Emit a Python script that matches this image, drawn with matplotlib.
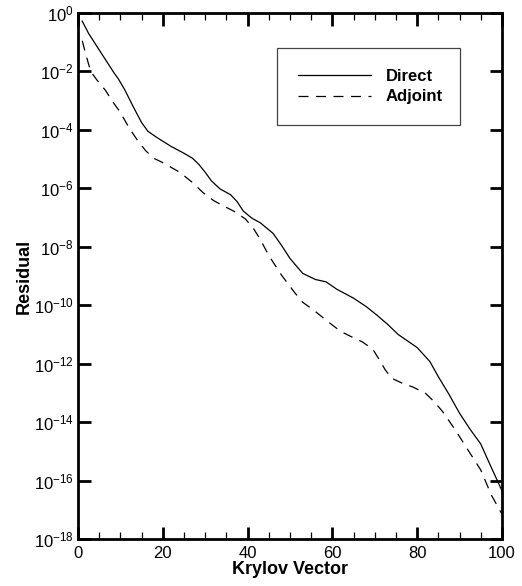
import numpy as np
import matplotlib
matplotlib.use("Agg")
import matplotlib.pyplot as plt
from matplotlib.ticker import MultipleLocator, NullLocator, LogFormatterSciNotation

plt.rcParams['font.family'] = ['Liberation Sans', 'DejaVu Sans']
plt.rcParams['mathtext.fontset'] = 'custom'
plt.rcParams['mathtext.rm'] = 'Liberation Sans'
plt.rcParams['axes.unicode_minus'] = False

# Direct 残差 (log10 で読み取り)
direct_x = [1, 2.5, 4.5, 6.5, 8.5, 9.5, 11, 13, 15, 16.5, 18.5, 22, 25, 27, 28.5, 30, 31.5,
            33.5, 36, 37.5, 39, 41, 43, 46, 48, 50, 53, 56, 58.5, 61, 65, 68, 70.5, 73,
            75.5, 77, 80, 83, 85, 87.5, 90, 92.5, 95, 97, 100]
direct_log = [-0.28, -0.70, -1.15, -1.60, -2.05, -2.25, -2.62, -3.20, -3.75, -4.05, -4.25,
              -4.57, -4.80, -4.97, -5.18, -5.45, -5.75, -6.02, -6.22, -6.45, -6.78, -7.02,
              -7.18, -7.54, -7.95, -8.40, -8.91, -9.12, -9.20, -9.45, -9.76, -10.05, -10.34,
              -10.65, -11.00, -11.15, -11.45, -11.93, -12.45, -13.05, -13.70, -14.25,
              -14.75, -15.40, -16.35]

# Adjoint 残差
adjoint_x = [1, 2, 3, 4.5, 6.5, 8, 10, 12, 14, 16, 18, 20, 24, 27, 29.5, 32, 34, 37, 39.5,
             41.5, 43, 45, 48, 51, 53, 55.5, 58, 60, 62, 64.5, 67, 69.5, 71, 72.5, 74, 76.5,
             79, 82, 84, 86, 89, 92, 95, 97.5, 100]
adjoint_log = [-0.95, -1.50, -2.00, -2.30, -2.65, -3.00, -3.40, -3.92, -4.35, -4.72, -4.98,
               -5.12, -5.45, -5.80, -6.15, -6.42, -6.58, -6.80, -7.05, -7.40, -7.75, -8.30,
               -8.97, -9.55, -9.90, -10.16, -10.45, -10.68, -10.90, -11.08, -11.25, -11.50,
               -11.85, -12.22, -12.50, -12.67, -12.80, -13.02, -13.30, -13.64, -14.27,
               -14.96, -15.64, -16.50, -17.15]

fig = plt.figure(figsize=(5.22, 5.86), dpi=100)
ax = fig.add_axes([78 / 522, 47 / 586, 424 / 522, 526 / 586])

ax.semilogy(direct_x, 10.0 ** np.array(direct_log), color="k", lw=0.9, label="Direct")
ax.semilogy(adjoint_x, 10.0 ** np.array(adjoint_log), color="k", lw=0.9,
            dashes=(8, 6), label="Adjoint")

ax.set_xlim(0, 100)
ax.set_ylim(1e-18, 1e0)
ax.xaxis.set_major_locator(MultipleLocator(20))
ax.xaxis.set_minor_locator(MultipleLocator(5))
ax.set_yticks(10.0 ** np.arange(-18, 1, 2))
ax.yaxis.set_major_formatter(LogFormatterSciNotation())
ax.yaxis.set_minor_locator(NullLocator())

for s in ax.spines.values():
    s.set_linewidth(2.0)
ax.tick_params(which="both", direction="in", top=True, right=True, labelsize=12)
ax.tick_params(which="major", length=9, width=2.0)
ax.tick_params(axis="y", which="major", pad=3)
ax.tick_params(axis="x", which="major", pad=5)
ax.tick_params(which="minor", length=5, width=0.9)

ax.set_xlabel("Krylov Vector", fontsize=13, fontweight="bold", labelpad=0)
ax.set_ylabel("Residual", fontsize=13, fontweight="bold", labelpad=1)

leg = ax.legend(loc="upper left", bbox_to_anchor=(0.469, 0.933, 0.432, 0.0), mode="expand",
                borderaxespad=0, fancybox=False, edgecolor="#444444", framealpha=1,
                handlelength=4.4, handletextpad=0.9, borderpad=1.25, labelspacing=0.32,
                prop={"weight": "bold", "size": 12})
leg.get_frame().set_linewidth(0.9)

fig.savefig("out.png", dpi=100)
